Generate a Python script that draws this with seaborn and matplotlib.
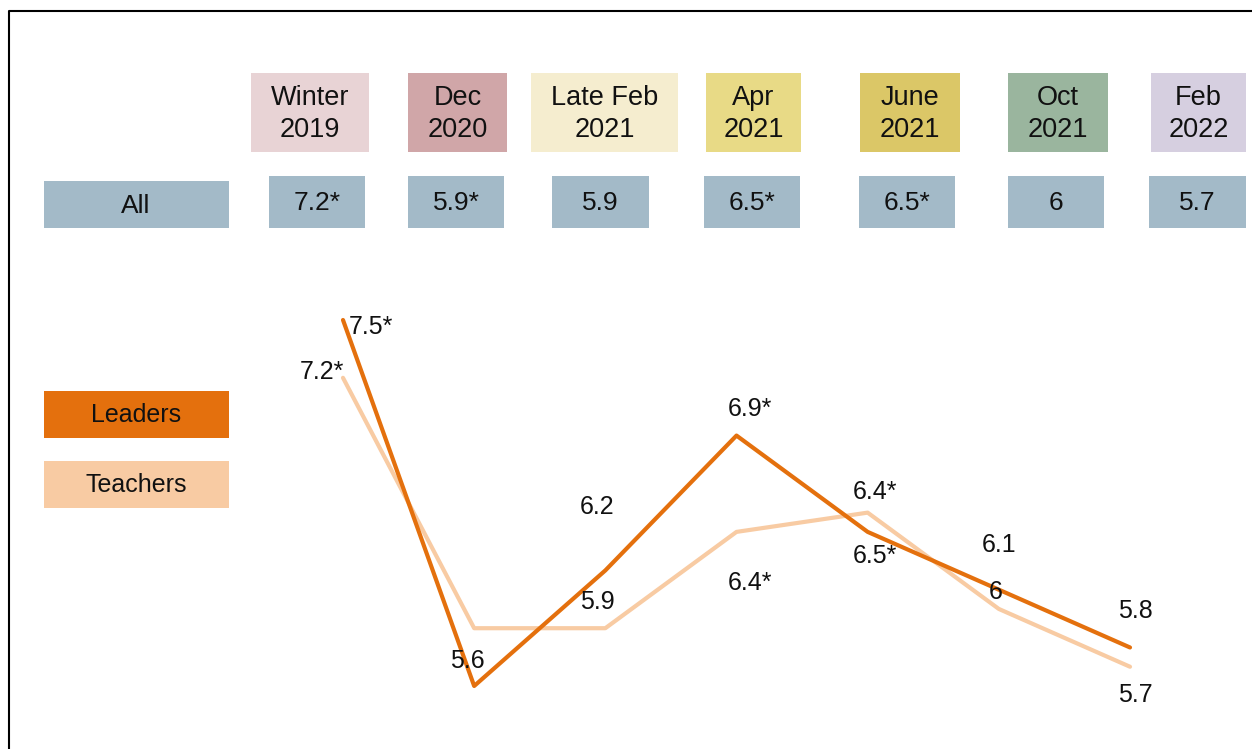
import matplotlib
matplotlib.use("Agg")
import matplotlib.pyplot as plt
from matplotlib.patches import Rectangle
import pandas as pd
import seaborn as sns

sns.set_style("white")
FONT = "Liberation Sans"
plt.rcParams['font.family'] = [FONT, 'DejaVu Sans']

# survey waves
waves = ["Winter\n2019", "Dec\n2020", "Late Feb\n2021", "Apr\n2021",
         "June\n2021", "Oct\n2021", "Feb\n2022"]
wave_colors = ["#E8D3D5", "#D0A6A8", "#F5EDCF", "#E8DA86",
               "#DBC767", "#9AB59E", "#D6CFE0"]
all_labels = ["7.2*", "5.9*", "5.9", "6.5*", "6.5*", "6", "5.7"]

leaders = [7.5, 5.6, 6.2, 6.9, 6.4, 6.1, 5.8]
teachers = [7.2, 5.9, 5.9, 6.4, 6.5, 6.0, 5.7]
leader_labels = ["7.5*", "5.6", "6.2", "6.9*", "6.5*", "6.1", "5.8"]
teacher_labels = ["7.2*", "", "5.9", "6.4*", "6.4*", "6", "5.7"]

leader_color = "#E4700D"
teacher_color = "#F8CBA3"
all_color = "#A3BAC8"
txt_color = "#111111"

W, H = 1252, 749
fig = plt.figure(figsize=(W / 100, H / 100), dpi=100)

# header / table area in pixel coords
hdr = fig.add_axes([0, 0, 1, 1])
hdr.set_xlim(0, W)
hdr.set_ylim(H, 0)
hdr.axis("off")

# frame (left and top edges)
hdr.plot([9, 9, W + 5], [H + 5, 11, 11], color="black", lw=1.5, clip_on=False)

wave_boxes = [(251, 369), (408, 507), (531, 678), (706, 801),
              (860, 960), (1008, 1108), (1151, 1246)]
all_boxes = [(269, 365), (408, 504), (552, 649), (704, 800),
             (859, 955), (1008, 1104), (1149, 1246)]

for (x0, x1), lab, c in zip(wave_boxes, waves, wave_colors):
    hdr.add_patch(Rectangle((x0, 73), x1 - x0, 79, color=c, lw=0))
    hdr.text((x0 + x1) / 2, 114, lab, ha="center", va="center", family=FONT,
             fontsize=19.5, linespacing=1.3, color=txt_color)

hdr.add_patch(Rectangle((44, 181), 185, 47, color=all_color, lw=0))
hdr.text(136, 206, "All", ha="center", va="center", family=FONT,
         fontsize=19, color=txt_color)
for (x0, x1), lab in zip(all_boxes, all_labels):
    hdr.add_patch(Rectangle((x0, 176), x1 - x0, 52, color=all_color, lw=0))
    hdr.text((x0 + x1) / 2, 203, lab, ha="center", va="center", family=FONT,
             fontsize=19, color=txt_color)

# legend boxes
for y0, name, c in [(391, "Leaders", leader_color), (461, "Teachers", teacher_color)]:
    hdr.add_patch(Rectangle((44, y0), 185, 47, color=c, lw=0))
    hdr.text(136, y0 + 24, name, ha="center", va="center", family=FONT,
             fontsize=18, color=txt_color)

# line chart
ax = fig.add_axes([343 / W, (H - 686) / H, (1130 - 343) / W, 366 / H])
ax.patch.set_alpha(0)
df = pd.DataFrame({"x": range(len(waves)), "Leaders": leaders, "Teachers": teachers})
sns.lineplot(data=df, x="x", y="Teachers", color=teacher_color, lw=3, ax=ax)
sns.lineplot(data=df, x="x", y="Leaders", color=leader_color, lw=3, ax=ax)
for ln in ax.lines:
    ln.set_clip_on(False)
ax.set_xlim(0, len(waves) - 1)
ax.set_ylim(5.6, 7.5)
ax.axis("off")

# label offsets in points (dx, dy)
leader_off = [(20, -5), (-5, 18), (-6, 46), (10, 19), (5, -17), (0, 32), (4, 26)]
teacher_off = [(-15, 4), (0, 0), (-6, 19), (10, -37), (5, 15), (-2, 12), (4, -20)]
for i in range(len(waves)):
    for vals, labs, offs in [(leaders, leader_labels, leader_off),
                             (teachers, teacher_labels, teacher_off)]:
        if labs[i]:
            ax.annotate(labs[i], (i, vals[i]), xytext=offs[i], textcoords="offset points",
                        ha="center", va="center", family=FONT, fontsize=18,
                        color=txt_color, annotation_clip=False)

fig.savefig("out.png", dpi=100)
